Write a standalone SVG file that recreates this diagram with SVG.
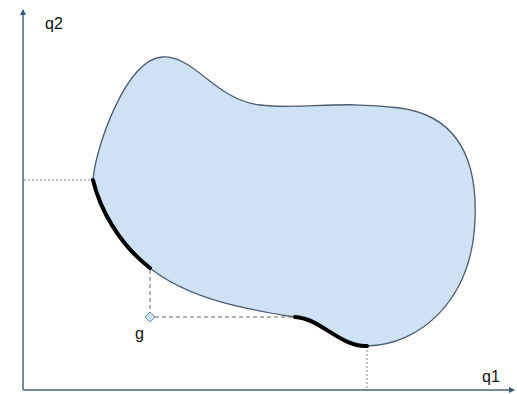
<svg xmlns="http://www.w3.org/2000/svg" width="517" height="394" viewBox="0 0 517 394">
<style>
.axis{stroke:#7a8794;stroke-width:2;fill:none}
.lbl{font-family:"Liberation Sans",Arial,sans-serif;font-size:16px;fill:#111}
.dot{stroke:#888;stroke-width:1;stroke-dasharray:2 2;fill:none}
.dash{stroke:#666;stroke-width:1;stroke-dasharray:4 3;fill:none}
.thick{stroke:#000;stroke-width:4;fill:none;stroke-linecap:round}
</style>
<defs>
<marker id="ah" markerWidth="6" markerHeight="6" refX="5" refY="3" orient="auto" markerUnits="userSpaceOnUse">
<path d="M0,0 L6,3 L0,6 Z" fill="#2f5a85"/>
</marker>
</defs>
<rect width="517" height="394" fill="#fff"/>
<g id="axes">
<line class="axis" x1="23" y1="390" x2="23" y2="10" marker-end="url(#ah)"/>
<line class="axis" x1="23" y1="390" x2="514" y2="390" marker-end="url(#ah)"/>
</g>
<g id="region">
<path d="M93,180 C95,150 125,60 162,57 C195,55 215,100 260,105 C300,110 340,100 400,108 C450,115 478,150 475,220 C472,300 420,345 367,346 C340,347 320,318 295,317 C250,310 190,300 150,268 C120,245 100,210 93,180 Z" fill="#cfe2f3" stroke="#4d5d6d" stroke-width="1.3"/>
</g>
<g id="connectors">
<line class="dot" x1="24" y1="180" x2="93" y2="180"/>
<line class="dot" x1="367" y1="346" x2="367" y2="389"/>
<line class="dash" x1="150" y1="270" x2="150" y2="312"/>
<line class="dash" x1="155" y1="317" x2="295" y2="317"/>
<path class="thick" d="M93,180 C100,210 120,245 150,268"/>
<path class="thick" d="M295,317 C320,318 340,347 367,346"/>
</g>
<g id="g">
<path d="M150,312 L155,317 L150,322 L145,317 Z" fill="#cfe2f3" stroke="#6b8fb0" stroke-width="1"/>
<text class="lbl" x="135" y="339">g</text>
</g>
<g id="labels">
<text class="lbl" x="45" y="29">q2</text>
<text class="lbl" x="482" y="382">q1</text>
</g>
</svg>
